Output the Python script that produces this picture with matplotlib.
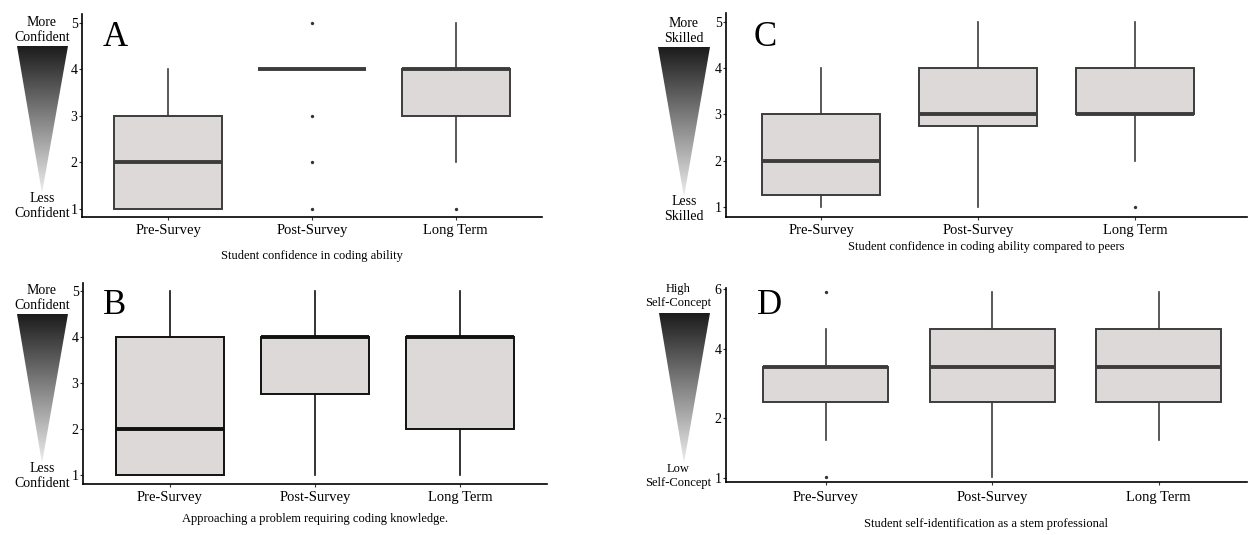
import numpy as np
import matplotlib
matplotlib.use("Agg")
import matplotlib.pyplot as plt
from matplotlib.patches import Polygon

plt.rcParams['font.family'] = ['Liberation Serif', 'DejaVu Serif']

# Kategorien
groups = ["Pre-Survey", "Post-Survey", "Long Term"]

# A: Student confidence in coding ability
A_low = [1, 4, 2]
A_q1 = [1, 4, 3]
A_med = [2, 4, 4]
A_q3 = [3, 4, 4]
A_high = [4, 4, 5]
A_fliers = [[], [1, 2, 3, 5], [1]]

# B: Approaching a problem requiring coding knowledge
B_low = [1, 1, 1]
B_q1 = [1, 2.75, 2]
B_med = [2, 4, 4]
B_q3 = [4, 4, 4]
B_high = [5, 5, 5]
B_fliers = [[], [], []]

# C: compared to peers
C_low = [1, 1, 2]
C_q1 = [1.25, 2.75, 3]
C_med = [2, 3, 3]
C_q3 = [3, 4, 4]
C_high = [4, 5, 5]
C_fliers = [[], [], [1]]

# D: self-identification
D_low = [1.64, 1.03, 1.64]
D_q1 = [2.47, 2.47, 2.47]
D_med = [3.5, 3.5, 3.5]
D_q3 = [3.5, 4.67, 4.67]
D_high = [4.67, 5.9, 5.9]
D_fliers = [[1.03, 5.9], [], []]

W, H = 1249, 535
fig = plt.figure(figsize=(W / 100, H / 100), dpi=100)

# Hintergrund-Achse fuer Dreiecke und Texte (Pixelkoordinaten)
bg = fig.add_axes([0, 0, 1, 1])
bg.axis('off')

grad = np.linspace(0.11, 0.93, 256)[:, None]


def triangle(xl, xr, xtip, ytop, ytip, top_txt, bot_txt, y_top_txt, y_bot_txt,
             fs=10, xtxt=None):
    if xtxt is None:
        xtxt = xtip
    im = bg.imshow(grad, cmap='gray', vmin=0, vmax=1, aspect='auto',
                   extent=(xl, xr, ytip, ytop), interpolation='bilinear')
    poly = Polygon([(xl, ytop), (xr, ytop), (xtip, ytip)], closed=True,
                   transform=bg.transData, facecolor='none', edgecolor='none')
    bg.add_patch(poly)
    im.set_clip_path(poly)
    bg.text(xtxt, y_top_txt, top_txt, ha='center', va='center', fontsize=fs,
            linespacing=1.15)
    bg.text(xtxt, y_bot_txt, bot_txt, ha='center', va='center', fontsize=fs,
            linespacing=1.15)


triangle(17, 68, 42, 46, 193, "More\nConfident", "Less\nConfident", 30, 206)
triangle(17, 68, 42, 314, 463, "More\nConfident", "Less\nConfident", 298, 476)
triangle(658, 710, 684, 47, 197, "More\nSkilled", "Less\nSkilled", 31, 209)
triangle(659, 710, 684, 313, 463, "High\nSelf-Concept", "Low\nSelf-Concept", 296, 476,
         fs=9, xtxt=678)

bg.set_xlim(0, W)
bg.set_ylim(H, 0)

fill = '#ded9d9'
edge = '#3c3c3c'


def make_ax(left, right, top, bottom):
    return fig.add_axes([left / W, 1 - bottom / H, (right - left) / W, (bottom - top) / H])


def draw(ax, low, q1, med, q3, high, fliers, xlim, ylim, xlabel, labelpad, ec=edge, xpad=3):
    stats = []
    for i in range(len(groups)):
        stats.append(dict(whislo=low[i], q1=q1[i], med=med[i], q3=q3[i],
                          whishi=high[i], fliers=fliers[i]))
    ax.bxp(stats, positions=[1, 2, 3], widths=0.75, patch_artist=True,
           showcaps=False,
           boxprops=dict(facecolor=fill, edgecolor=ec, linewidth=1.4),
           medianprops=dict(color=ec, linewidth=2.8, solid_capstyle='butt'),
           whiskerprops=dict(color=ec, linewidth=1.2),
           flierprops=dict(marker='o', markersize=2.4, markerfacecolor='#333333',
                           markeredgecolor='none'))
    ax.set_xlim(*xlim)
    ax.set_ylim(*ylim)
    ax.set_xticks([1, 2, 3])
    ax.set_xticklabels(groups)
    for s in ['top', 'right']:
        ax.spines[s].set_visible(False)
    for s in ['left', 'bottom']:
        ax.spines[s].set_linewidth(1.2)
        ax.spines[s].set_color('black')
    ax.tick_params(axis='both', direction='out', length=2.2, width=0.8,
                   color='#333333')
    ax.tick_params(axis='x', labelsize=10.5, pad=xpad)
    ax.tick_params(axis='y', labelsize=10, pad=1)
    ax.set_xlabel(xlabel, fontsize=9, labelpad=labelpad)
    ax.set_facecolor('none')


axA = make_ax(82, 542, 14, 217)
draw(axA, A_low, A_q1, A_med, A_q3, A_high, A_fliers, (0.4, 3.6), (0.828, 5.19),
     "Student confidence in coding ability", 9)
axA.set_yticks([1, 2, 3, 4, 5])

axB = make_ax(83, 547, 283, 484)
draw(axB, B_low, B_q1, B_med, B_q3, B_high, B_fliers, (0.4, 3.6), (0.80, 5.17),
     "Approaching a problem requiring coding knowledge.", 6, ec='#111111')
axB.set_yticks([1, 2, 3, 4, 5])

axC = make_ax(726, 1247, 13, 217)
draw(axC, C_low, C_q1, C_med, C_q3, C_high, C_fliers, (0.395, 3.71), (0.78, 5.19),
     "Student confidence in coding ability compared to peers", 3)
axC.set_yticks([1, 2, 3, 4, 5])

# D: ungleichmaessige Achse (Pixelabstaende aus dem Original)
d_vals = [0, 1, 2, 4, 6, 8]
d_pix = [-59, 0, 59, 127, 186, 245]


def d_fwd(y):
    return np.interp(y, d_vals, d_pix)


def d_inv(h):
    return np.interp(h, d_pix, d_vals)


axD = make_ax(726, 1247, 288, 482)
axD.set_yscale('function', functions=(d_fwd, d_inv))
draw(axD, D_low, D_q1, D_med, D_q3, D_high, D_fliers, (0.4, 3.53), (0.94, 6.05),
     "Student self-identification as a stem professional", 10, xpad=4.5)
axD.set_yticks([1, 2, 4, 6])
axD.set_yticklabels(['1', '2', '4', '6'])
axD.yaxis.set_minor_locator(matplotlib.ticker.NullLocator())

# Panel-Buchstaben
for lab, x, y in [("A", 115, 37), ("B", 115, 305), ("C", 765, 37), ("D", 770, 305)]:
    bg.text(x, y, lab, ha='center', va='center', fontsize=25)

fig.savefig("out.png", dpi=100)
